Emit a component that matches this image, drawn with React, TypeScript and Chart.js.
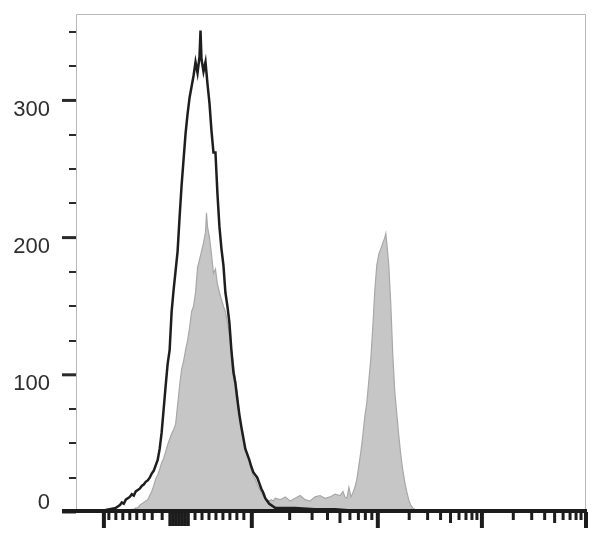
import { useEffect, useRef } from 'react';
import { Chart, registerables } from 'chart.js';

Chart.register(...registerables);

// Histogram of the black (open) trace: channel -> count
const blackChannels = [0, 40, 80, 84, 88, 92, 96, 100, 104, 108, 112, 116, 120, 124, 128, 132, 136, 140, 144, 148, 152, 156, 160, 164, 168, 172, 176, 180, 184, 188, 192, 196, 200, 204, 208, 212, 216, 220, 224, 228, 232, 236, 240, 244, 248, 250, 252, 256, 260, 264, 268, 272, 276, 280, 284, 288, 292, 296, 300, 304, 308, 312, 316, 320, 324, 328, 332, 336, 340, 344, 348, 352, 356, 360, 364, 368, 372, 376, 380, 384, 388, 392, 396, 400, 440, 480, 520, 560, 600, 700, 1024];
const blackCounts = [0, 0, 3, 4, 5, 7, 6, 9, 10, 11, 13, 12, 15, 16, 17, 19, 20, 22, 23, 25, 28, 30, 34, 38, 46, 58, 75, 92, 108, 118, 146, 162, 176, 190, 215, 238, 257, 276, 290, 302, 310, 318, 328, 320, 332, 351, 330, 321, 328, 312, 298, 278, 262, 262, 232, 208, 192, 180, 160, 150, 138, 118, 102, 94, 82, 71, 62, 54, 46, 42, 38, 33, 29, 27, 25, 21, 17, 14, 10, 8, 6, 5, 4, 3, 3, 2, 2, 1, 1, 0, 0];

// Histogram of the gray (filled) trace
const grayChannels = [0, 80, 100, 104, 108, 112, 116, 120, 124, 128, 132, 136, 140, 144, 148, 152, 156, 160, 164, 168, 172, 176, 180, 184, 188, 192, 196, 200, 204, 208, 212, 216, 220, 224, 228, 232, 236, 240, 244, 248, 252, 256, 260, 262, 264, 268, 272, 276, 280, 284, 288, 292, 296, 300, 304, 308, 312, 316, 320, 324, 328, 332, 336, 340, 344, 348, 352, 356, 360, 364, 368, 372, 376, 380, 384, 388, 392, 396, 400, 410, 420, 430, 440, 450, 460, 470, 480, 490, 500, 510, 520, 530, 536, 540, 544, 548, 552, 556, 560, 564, 568, 572, 576, 580, 584, 588, 592, 596, 600, 604, 608, 612, 616, 620, 622, 624, 628, 632, 636, 640, 644, 648, 652, 656, 660, 664, 668, 672, 676, 680, 690, 700, 1024];
const grayCounts = [0, 0, 0, 1, 1, 2, 2, 3, 3, 5, 6, 7, 8, 9, 12, 15, 19, 24, 27, 31, 36, 39, 44, 49, 53, 57, 60, 64, 78, 92, 104, 110, 118, 125, 134, 146, 150, 160, 178, 184, 190, 196, 204, 218, 208, 200, 188, 174, 177, 166, 160, 155, 150, 146, 138, 130, 118, 108, 96, 86, 70, 62, 54, 47, 42, 37, 31, 26, 24, 20, 17, 14, 12, 10, 9, 8, 9, 8, 10, 9, 11, 8, 10, 12, 9, 8, 11, 12, 10, 11, 13, 12, 15, 11, 10, 18, 11, 14, 18, 24, 34, 44, 56, 70, 80, 96, 112, 135, 162, 180, 188, 192, 196, 200, 203, 196, 180, 152, 115, 88, 72, 56, 42, 31, 22, 15, 9, 5, 3, 2, 1, 0, 0];

// Axis tick structure
const yLabelTicks = [0, 100, 200, 300];
const yMinorTicks = [25, 50, 75, 125, 150, 175, 225, 250, 275, 325, 350];
const xMajorTicks = [56, 353, 606, 815, 1024];
const xMidTicks = [530, 752, 961];
const xMinorTicks = [66, 80, 94, 108, 122, 137, 153, 173, 239, 253, 267, 281, 295, 309, 323, 337, 429, 474, 505, 550, 567, 581, 594, 669, 706, 732, 769, 783, 795, 805, 878, 915, 941, 978, 992, 1004, 1014];
const xBlockTicks = [189, 195, 201, 207, 213, 219, 225];

const X_MAX = 1024;
const Y_MAX = 363;

const flowAxes = {
  id: 'flowAxes',
  afterDraw(chart: any) {
    const { ctx, chartArea: a, scales } = chart;
    const xs = scales.x;
    const ys = scales.y;
    const y0 = ys.getPixelForValue(0);
    ctx.save();
    // frame
    ctx.strokeStyle = '#b8b8b8';
    ctx.lineWidth = 1;
    ctx.beginPath();
    ctx.moveTo(a.left + 0.5, y0);
    ctx.lineTo(a.left + 0.5, a.top + 0.5);
    ctx.lineTo(a.right - 0.5, a.top + 0.5);
    ctx.lineTo(a.right - 0.5, y0);
    ctx.stroke();
    // y ticks
    ctx.strokeStyle = '#2a2a2a';
    ctx.lineWidth = 3;
    for (const v of yLabelTicks) {
      const p = ys.getPixelForValue(v);
      ctx.beginPath();
      ctx.moveTo(a.left - 14, p);
      ctx.lineTo(a.left, p);
      ctx.stroke();
    }
    ctx.lineWidth = 2;
    for (const v of yMinorTicks) {
      const p = Math.round(ys.getPixelForValue(v));
      ctx.beginPath();
      ctx.moveTo(a.left - 7, p);
      ctx.lineTo(a.left, p);
      ctx.stroke();
    }
    // x axis line
    ctx.strokeStyle = '#1c1c1c';
    ctx.lineWidth = 4;
    ctx.beginPath();
    ctx.moveTo(a.left - 14, y0 - 1);
    ctx.lineTo(a.right + 1, y0 - 1);
    ctx.stroke();
    const drawX = (vals: number[], len: number, w: number) => {
      ctx.lineWidth = w;
      for (const v of vals) {
        const p = xs.getPixelForValue(v);
        ctx.beginPath();
        ctx.moveTo(p, y0);
        ctx.lineTo(p, y0 + 1 + len);
        ctx.stroke();
      }
    };
    drawX(xMinorTicks, 7, 3);
    drawX(xMidTicks, 10, 3);
    drawX(xBlockTicks, 13, 3.5);
    drawX(xMajorTicks, 15, 4);
    ctx.restore();
  },
};

export default function App() {
  const ref = useRef<HTMLCanvasElement | null>(null);
  useEffect(() => {
    if (!ref.current) return;
    const chart = new Chart(ref.current, {
      type: 'line',
      data: {
        datasets: [
          {
            label: 'open',
            data: blackChannels.map((c, i) => ({ x: c, y: blackCounts[i] })),
            borderColor: '#1e1e1e',
            borderWidth: 2.5,
            pointRadius: 0,
            fill: false,
            tension: 0,
          },
          {
            label: 'filled',
            data: grayChannels.map((c, i) => ({ x: c, y: grayCounts[i] })),
            borderColor: '#a8a8a8',
            backgroundColor: '#c6c6c6',
            borderWidth: 1.2,
            pointRadius: 0,
            fill: 'origin',
            tension: 0,
          },
        ],
      },
      options: {
        animation: false,
        responsive: false,
        layout: { padding: { top: 6, right: 14, bottom: 25, left: 0 } },
        plugins: { legend: { display: false }, tooltip: { enabled: false } },
        scales: {
          x: { type: 'linear', min: 0, max: X_MAX, display: false },
          y: {
            type: 'linear',
            min: 0,
            max: Y_MAX,
            grid: { display: false, drawTicks: false },
            border: { display: false },
            afterFit: (s: any) => {
              s.width = 68;
              s.paddingTop = 0;
              s.paddingBottom = 0;
            },
            ticks: {
              stepSize: 100,
              includeBounds: false,
              padding: 26,
              color: '#2e2e2e',
              font: { family: '"Liberation Sans", Arial, sans-serif', size: 22, lineHeight: 0.85 },
              callback: (v: any) => {
                const n = Number(v);
                if (n === 0) return ['0', ''];
                if (yLabelTicks.includes(n)) return ['', String(n)];
                return '';
              },
            },
          },
        },
      },
      plugins: [flowAxes],
    });
    return () => chart.destroy();
  }, []);
  return (
    <div style={{ width: 592, height: 529 }}>
      <canvas ref={ref} width={592} height={529} style={{ display: 'block' }} />
    </div>
  );
}
